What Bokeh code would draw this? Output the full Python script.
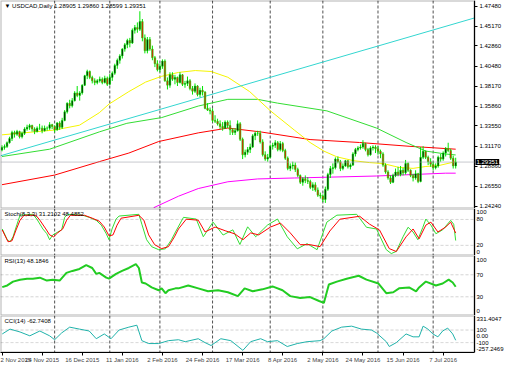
from bokeh.plotting import figure
from bokeh.layouts import column
from bokeh.models import (FixedTicker, Label, Span, Range1d, PrintfTickFormatter, ColumnDataSource,
                          LinearAxis, BoxAnnotation)
from bokeh.embed import file_html
from bokeh.resources import INLINE

FONT = "Liberation Sans"
FS = "6px"

# ---------------- data (bar index 0 = 2 Nov 2015, one bar per trading day) -------------
date_idx = [0, 16, 32, 48, 64, 80, 96, 112, 128, 144, 160, 176]
date_lbl = ["2 Nov 2015", "24 Nov 2015", "16 Dec 2015", "11 Jan 2016", "2 Feb 2016", "24 Feb 2016",
            "17 Mar 2016", "8 Apr 2016", "2 May 2016", "24 May 2016", "15 Jun 2016", "7 Jul 2016"]
month_idx = [21, 43, 63, 84, 107, 128, 150, 172]

opens = [1.3075,1.3105,1.3115,1.3160,1.3210,1.3280,1.3260,1.3290,1.3230,1.3270,
         1.3320,1.3340,1.3360,1.3320,1.3290,1.3330,1.3330,1.3300,1.3330,1.3330,
         1.3370,1.3350,1.3310,1.3390,1.3340,1.3420,1.3520,1.3620,1.3590,1.3650,
         1.3740,1.3710,1.3740,1.3830,1.3940,1.3990,1.3920,1.3880,1.3860,1.3880,
         1.3900,1.3860,1.3910,1.3840,1.3920,1.3970,1.4060,1.4120,1.4170,1.4250,
         1.4300,1.4350,1.4320,1.4470,1.4500,1.4480,1.4570,1.4380,1.4230,1.4360,
         1.4250,1.4150,1.4080,1.4010,1.4050,1.4110,1.3880,1.3830,1.3950,1.3900,
         1.3920,1.3860,1.3950,1.3840,1.3850,1.3880,1.3790,1.3760,1.3820,1.3720,
         1.3770,1.3750,1.3560,1.3540,1.3530,1.3420,1.3410,1.3380,1.3350,1.3330,
         1.3400,1.3360,1.3310,1.3280,1.3300,1.3380,1.3200,1.3020,1.3050,1.3080,
         1.3110,1.3240,1.3270,1.3270,1.3170,1.3020,1.2970,1.2990,1.3120,1.3130,
         1.3160,1.3080,1.3150,1.3070,1.2980,1.2860,1.2890,1.2900,1.2850,1.2780,
         1.2700,1.2740,1.2720,1.2710,1.2640,1.2670,1.2610,1.2550,1.2540,1.2500,
         1.2620,1.2790,1.2860,1.2870,1.2970,1.2940,1.2860,1.2890,1.2950,1.2880,
         1.2900,1.3030,1.3080,1.3100,1.3110,1.3150,1.3080,1.3020,1.3100,1.3110,
         1.3090,1.3060,1.3030,1.2900,1.2820,1.2750,1.2700,1.2780,1.2820,1.2790,
         1.2840,1.2810,1.2920,1.2840,1.2780,1.2750,1.2800,1.2710,1.2990,1.3060,
         1.2990,1.2940,1.2910,1.2870,1.2890,1.2990,1.2970,1.3040,1.3090,1.3070,
         1.2980,1.28905]
highs = [1.3130,1.3140,1.3175,1.3230,1.3300,1.3300,1.3310,1.3300,1.3290,1.3340,
         1.3370,1.3380,1.3370,1.3340,1.3350,1.3380,1.3360,1.3360,1.3350,1.3400,
         1.3380,1.3360,1.3400,1.3410,1.3450,1.3540,1.3630,1.3660,1.3680,1.3760,
         1.3820,1.3760,1.3840,1.3950,1.4010,1.4000,1.3940,1.3910,1.3900,1.3930,
         1.3920,1.3940,1.3930,1.3960,1.3990,1.4080,1.4140,1.4190,1.4260,1.4320,
         1.4370,1.4380,1.4490,1.4530,1.4560,1.4690,1.4600,1.4420,1.4390,1.4390,
         1.4290,1.4170,1.4120,1.4080,1.4130,1.4130,1.3920,1.3980,1.3980,1.3950,
         1.3930,1.3980,1.3960,1.3880,1.3930,1.3900,1.3820,1.3850,1.3830,1.3800,
         1.3820,1.3760,1.3620,1.3570,1.3560,1.3480,1.3440,1.3420,1.3400,1.3420,
         1.3420,1.3420,1.3330,1.3330,1.3420,1.3400,1.3220,1.3080,1.3110,1.3150,
         1.3260,1.3290,1.3300,1.3300,1.3200,1.3060,1.3030,1.3140,1.3160,1.3190,
         1.3180,1.3180,1.3170,1.3090,1.3000,1.2920,1.2940,1.2930,1.2870,1.2790,
         1.2760,1.2780,1.2760,1.2730,1.2700,1.2700,1.2640,1.2580,1.2560,1.2650,
         1.2810,1.2890,1.2920,1.2990,1.3000,1.2960,1.2920,1.2960,1.2960,1.2920,
         1.3050,1.3100,1.3120,1.3140,1.3190,1.3160,1.3100,1.3120,1.3130,1.3130,
         1.3120,1.3080,1.3050,1.2920,1.2840,1.2780,1.2800,1.2860,1.2880,1.2890,
         1.2870,1.2960,1.2930,1.2850,1.2800,1.2840,1.2810,1.3110,1.3120,1.3070,
         1.3010,1.2980,1.2940,1.2920,1.3010,1.3030,1.3060,1.3110,1.3160,1.3090,
         1.3010,1.2986]
lows = [1.3060,1.3080,1.3100,1.3150,1.3180,1.3220,1.3240,1.3210,1.3210,1.3250,
        1.3300,1.3310,1.3290,1.3260,1.3280,1.3310,1.3270,1.3290,1.3300,1.3310,
        1.3320,1.3280,1.3300,1.3310,1.3320,1.3410,1.3500,1.3560,1.3570,1.3640,
        1.3690,1.3650,1.3720,1.3820,1.3900,1.3900,1.3850,1.3830,1.3840,1.3860,
        1.3840,1.3850,1.3820,1.3830,1.3880,1.3950,1.4020,1.4080,1.4140,1.4220,
        1.4260,1.4270,1.4310,1.4430,1.4440,1.4460,1.4340,1.4200,1.4200,1.4230,
        1.4120,1.4040,1.3990,1.3980,1.4020,1.3870,1.3780,1.3800,1.3880,1.3840,
        1.3820,1.3850,1.3820,1.3800,1.3820,1.3770,1.3720,1.3740,1.3700,1.3690,
        1.3710,1.3550,1.3530,1.3490,1.3400,1.3390,1.3360,1.3320,1.3300,1.3320,
        1.3330,1.3250,1.3250,1.3250,1.3290,1.3180,1.2970,1.2990,1.3020,1.3040,
        1.3100,1.3190,1.3240,1.3150,1.3000,1.2950,1.2940,1.2980,1.3080,1.3100,
        1.3060,1.3060,1.3050,1.2960,1.2840,1.2830,1.2850,1.2820,1.2760,1.2680,
        1.2660,1.2690,1.2680,1.2620,1.2600,1.2590,1.2530,1.2510,1.2470,1.2460,
        1.2600,1.2750,1.2800,1.2850,1.2920,1.2830,1.2840,1.2880,1.2860,1.2850,
        1.2890,1.3000,1.3060,1.3080,1.3090,1.3060,1.3000,1.3010,1.3070,1.3040,
        1.3020,1.2980,1.2880,1.2800,1.2730,1.2680,1.2690,1.2760,1.2770,1.2770,
        1.2780,1.2790,1.2820,1.2760,1.2710,1.2730,1.2690,1.2700,1.2970,1.2970,
        1.2900,1.2880,1.2840,1.2850,1.2870,1.2940,1.2950,1.3000,1.3050,1.2960,
        1.2860,1.28599]
closes = [1.3105,1.3115,1.3160,1.3210,1.3280,1.3260,1.3290,1.3230,1.3270,1.3320,
          1.3340,1.3360,1.3320,1.3290,1.3330,1.3330,1.3300,1.3330,1.3330,1.3370,
          1.3350,1.3310,1.3390,1.3340,1.3420,1.3520,1.3620,1.3590,1.3650,1.3740,
          1.3710,1.3740,1.3830,1.3940,1.3990,1.3920,1.3880,1.3860,1.3880,1.3900,
          1.3860,1.3910,1.3840,1.3920,1.3970,1.4060,1.4120,1.4170,1.4250,1.4300,
          1.4350,1.4320,1.4470,1.4500,1.4480,1.4570,1.4380,1.4230,1.4360,1.4250,
          1.4150,1.4080,1.4010,1.4050,1.4110,1.3880,1.3830,1.3950,1.3900,1.3920,
          1.3860,1.3950,1.3840,1.3850,1.3880,1.3790,1.3760,1.3820,1.3720,1.3770,
          1.3750,1.3560,1.3540,1.3530,1.3420,1.3410,1.3380,1.3350,1.3330,1.3400,
          1.3360,1.3310,1.3280,1.3300,1.3380,1.3200,1.3020,1.3050,1.3080,1.3110,
          1.3240,1.3270,1.3270,1.3170,1.3020,1.2970,1.2990,1.3120,1.3130,1.3160,
          1.3080,1.3150,1.3070,1.2980,1.2860,1.2890,1.2900,1.2850,1.2780,1.2700,
          1.2740,1.2720,1.2710,1.2640,1.2670,1.2610,1.2550,1.2540,1.2500,1.2620,
          1.2790,1.2860,1.2870,1.2970,1.2940,1.2860,1.2890,1.2950,1.2880,1.2900,
          1.3030,1.3080,1.3100,1.3110,1.3150,1.3080,1.3020,1.3100,1.3110,1.3090,
          1.3060,1.3030,1.2900,1.2820,1.2750,1.2700,1.2780,1.2820,1.2790,1.2840,
          1.2810,1.2920,1.2840,1.2780,1.2750,1.2800,1.2710,1.2990,1.3060,1.2990,
          1.2940,1.2910,1.2870,1.2890,1.2990,1.2970,1.3040,1.3090,1.3070,1.2980,
          1.2890,1.29351]
last_price = 1.29351

price_ticks = [1.24240, 1.26550, 1.28860, 1.31170, 1.33550, 1.35860, 1.38170, 1.40480, 1.42860, 1.45170, 1.47480]

# moving averages (bar index, price)
ma_yellow_x = [0, 21, 30.9, 38.8, 42.7, 50.6, 57.3, 63.7, 70.4, 77.1, 83.4, 90.1, 98.8, 107.1, 116.6,
               122.9, 128.4, 133.6, 140.3, 146.6, 152.1, 158.4, 164, 169.1, 174.3, 181]
ma_yellow_y = [1.3252, 1.3308, 1.3364, 1.3509, 1.3610, 1.3755, 1.3866, 1.3933, 1.3978, 1.4000, 1.3989,
               1.3922, 1.3755, 1.3531, 1.3308, 1.3163, 1.3063, 1.2996, 1.2951, 1.2929, 1.2918, 1.2873,
               1.2862, 1.2884, 1.2895, 1.2940]
ma_green_x = [0, 19, 38.8, 49.8, 63.7, 78.3, 90.1, 102, 109.9, 129.6, 149.4, 161.2, 169.1, 177, 181]
ma_green_y = [1.3000, 1.3085, 1.3286, 1.3386, 1.3453, 1.3587, 1.3665, 1.3665, 1.3621, 1.3531, 1.3331,
              1.3163, 1.3063, 1.3029, 1.3018]
ma_red_x = [0, 21, 38.8, 50.6, 62.5, 78.3, 90.1, 103.2, 122.9, 142.6, 162.4, 181]
ma_red_y = [1.2672, 1.2784, 1.2940, 1.3040, 1.3174, 1.3275, 1.3331, 1.3286, 1.3197, 1.3163, 1.3119, 1.3085]
ma_magenta_x = [60.5, 70.4, 78.3, 90.1, 102, 116.6, 149.4, 177, 181]
ma_magenta_y = [1.2404, 1.2538, 1.2627, 1.2706, 1.2739, 1.2750, 1.2773, 1.2806, 1.2806]
trend_x = [-0.6, 188.5]
trend_y = [1.3008, 1.4612]

# Stochastic(8,3,3)
stk_x = [0.1, 2.1, 3.2, 4.4, 6.0, 7.2, 12.3, 13.9, 16.3, 17.9, 19.0, 20.2, 23.8, 25.0, 26.1, 32.1, 34.8,
         37.6, 39.6, 41.6, 42.7, 43.9, 45.5, 46.7, 54.6, 55.8, 57.7, 59.7, 62.5, 65.2, 67.6, 69.2, 72.4,
         77.5, 80.3, 84.2, 88.2, 92.1, 94.9, 98.0, 101.2, 105.9, 109.9, 113.8, 117.8, 121.7, 125.7, 129.6,
         133.6, 141.5, 145.4, 149.4, 153.3, 155.3, 157.3, 160.0, 162.0, 164.0, 165.9, 167.9, 169.1, 171.1,
         173.1, 175.8, 179.0, 180.2, 181]
stk_k = [58, 33, 28, 40, 69, 90, 92, 81, 58, 47, 33, 44, 56, 85, 92, 90, 85, 78, 67, 47, 33, 58, 81, 88,
         92, 69, 33, 17, 10, 12, 33, 51, 85, 81, 40, 74, 44, 56, 22, 63, 40, 67, 81, 40, 12, 24, 10, 74,
         90, 92, 62, 58, 10, 1, 6, 40, 62, 51, 33, 62, 81, 67, 47, 56, 78, 69, 31.2]
std_x = [0.1, 2.4, 4.0, 5.6, 7.2, 8.8, 13.5, 15.1, 17.5, 19.0, 20.6, 22.2, 24.2, 25.8, 27.3, 32.9, 36.0,
         38.8, 40.8, 42.7, 44.3, 45.9, 47.5, 54.6, 56.6, 58.5, 60.9, 63.7, 66.4, 68.8, 70.4, 73.5, 78.3,
         81.0, 85.0, 89.3, 92.9, 96.1, 99.2, 102.4, 107.1, 111.1, 115.0, 119.0, 122.9, 126.9, 130.8,
         134.8, 142.7, 146.6, 150.6, 154.5, 157.3, 161.2, 164.0, 166.4, 169.1, 171.1, 173.9, 177.0,
         179.0, 181]
std_d = [55.7, 28.4, 30.7, 55.7, 78.4, 89.8, 89.8, 78.4, 58.0, 44.3, 39.8, 48.9, 58.0, 78.4, 89.8, 89.8,
         83.0, 76.1, 62.5, 42.0, 44.3, 67.0, 83.0, 89.8, 78.4, 44.3, 21.6, 12.5, 17.0, 39.8, 58.0, 80.7,
         78.4, 51.1, 62.5, 53.4, 46.6, 33.0, 48.9, 44.3, 62.5, 71.6, 48.9, 21.6, 21.6, 17.0, 53.4, 80.7,
         87.5, 69.3, 55.7, 12.5, 5.7, 39.8, 58.0, 35.2, 67.0, 73.9, 51.1, 62.5, 73.9, 48.5]

# RSI(13)
rsi_x = [0.1, 2.1, 4.4, 7.2, 10.0, 12.3, 15.1, 17.9, 20.2, 23.0, 25.7, 28.1, 30.9, 33.6, 36.0, 37.6,
         38.8, 41.6, 42.7, 45.5, 47.9, 50.6, 53.4, 54.6, 55.8, 57.3, 59.7, 62.5, 63.7, 65.2, 66.4, 69.2,
         70.4, 74.3, 78.3, 82.2, 86.2, 90.1, 94.1, 96.8, 100.0, 103.9, 107.9, 111.9, 115.0, 119.0, 122.9,
         126.5, 128.4, 130.4, 133.6, 137.5, 142.3, 145.4, 150.2, 153.3, 156.1, 158.4, 162.4, 165.2,
         166.4, 169.1, 173.1, 175.8, 178.2, 179.8, 181]
rsi_v = [47.6, 50.6, 57.6, 61.1, 62.9, 62.9, 64.7, 59.4, 61.1, 59.4, 73.5, 77.0, 80.5, 87.6, 82.3, 71.7,
         73.5, 64.7, 62.9, 71.7, 77.0, 82.3, 89.3, 82.3, 55.9, 54.1, 47.0, 41.8, 45.3, 36.5, 41.8, 45.3,
         45.3, 50.6, 45.3, 40.0, 41.8, 38.2, 31.2, 45.3, 40.0, 43.5, 48.8, 41.8, 31.2, 27.7, 29.4, 22.4,
         18.9, 52.3, 57.6, 62.9, 68.2, 61.1, 54.1, 36.5, 38.2, 45.3, 47.0, 40.0, 47.0, 57.6, 50.6, 54.1,
         61.1, 55.9, 48.18]

# CCI(14)
cci_x = [0.1, 3.2, 7.2, 11.1, 15.1, 19.0, 21.0, 23.8, 27.0, 30.9, 34.8, 37.6, 40.8, 43.5, 46.7, 50.6,
         53.8, 55.8, 58.5, 62.5, 66.4, 70.4, 73.1, 78.3, 81.0, 83.4, 87.3, 91.3, 96.1, 99.2, 103.2, 105.9,
         109.9, 113.8, 117.8, 121.7, 126.9, 128.4, 131.6, 135.5, 139.5, 143.4, 147.4, 149.4, 153.3, 154.5,
         157.3, 161.2, 164.0, 166.4, 168.0, 169.9, 171.9, 173.9, 175.8, 177.8, 179.8, 181]
cci_v = [38, 115, 69, 8, 85, 8, -54, 54, 146, 115, 85, -38, 38, -38, 100, 146, 177, -69, -115, -115, -69,
         -54, -85, -38, -100, -146, -38, -69, -223, -85, -38, -85, -69, -162, -115, -85, -69, -38, 85,
         146, 162, 115, 100, 54, -85, -162, -100, 38, -8, -8, 162, 115, 38, -8, 85, 131, 38, -62.74]
cci_top, cci_bot = 331.4047, -257.2469

# ---------------- layout ----------------
DATA_W = 474          # px of the bar area
AXIS_W = 36           # px of the price-scale strip (inside the frame)
X_START, X_EDGE = -0.6, 188.5
X_END = X_EDGE + AXIS_W * (X_EDGE - X_START) / DATA_W
x_range = Range1d(X_START, X_END)


def make_fig(h, ylo, yhi, xaxis=False):
    p = figure(frame_width=DATA_W + AXIS_W, frame_height=h, x_range=x_range, y_range=Range1d(ylo, yhi),
               output_backend="svg", toolbar_location=None,
               x_axis_location="below" if xaxis else None, y_axis_location=None,
               min_border_left=0, min_border_right=0, min_border_top=0, min_border_bottom=0,
               background_fill_color="white", border_fill_color="white", outline_line_color=None)
    p.xgrid.visible = False
    p.ygrid.visible = False
    for m in month_idx:
        p.add_layout(Span(location=m, dimension="height", line_color="#505050",
                          line_dash="3 2", line_width=1, level="underlay"))
    p.add_layout(BoxAnnotation(right=X_EDGE, fill_color=None, line_color="black", line_width=2))
    ax = LinearAxis(fixed_location=X_EDGE)
    ax.axis_line_color = "black"
    ax.major_label_text_font = FONT
    ax.major_label_text_font_size = FS
    ax.major_label_text_color = "black"
    ax.major_label_standoff = 2
    ax.minor_tick_line_color = None
    ax.major_tick_in = 0
    ax.major_tick_out = 0
    p.add_layout(ax, "right")
    return p, ax


def level_lines(p, levels):
    for lv in levels:
        p.add_layout(BoxAnnotation(top=lv, bottom=lv, right=X_EDGE, fill_color=None,
                                   line_color="#b4b4b4", line_dash="3 2", line_width=1, level="underlay"))


def corner_label(p, h, text):
    p.add_layout(Label(x=4, y=h - 2, x_units="screen", y_units="screen", text=text,
                       text_font=FONT, text_font_size=FS, text_baseline="top", text_color="black"))


def inset(lo, hi, h, px):
    # value that sits px pixels inside an edge (used to keep edge labels inside the panel)
    return (hi - lo) * px / h


# ---------------- main price panel ----------------
H_MAIN = 208
pm, axm = make_fig(H_MAIN, 1.2395, 1.4815)
axm.ticker = FixedTicker(ticks=price_ticks)
axm.formatter = PrintfTickFormatter(format="%.5f")
axm.major_tick_out = 3

pm.add_layout(BoxAnnotation(top=last_price, bottom=last_price, right=X_EDGE, fill_color=None,
                            line_color="#9aa0a6", line_width=1))

idx = list(range(len(closes)))
body_top = [max(o, c) for o, c in zip(opens, closes)]
body_bot = [min(o, c) for o, c in zip(opens, closes)]
body_col = ["black" if c >= o else "red" for o, c in zip(opens, closes)]
src = ColumnDataSource(dict(x=idx, o=opens, h=highs, l=lows, c=closes,
                            top=body_top, bot=body_bot, col=body_col))

pm.line(ma_magenta_x, ma_magenta_y, line_color="#ff00ff", line_width=1)
pm.line(ma_red_x, ma_red_y, line_color="#ff0000", line_width=1)
pm.line(ma_green_x, ma_green_y, line_color="#33dd33", line_width=1)
pm.line(ma_yellow_x, ma_yellow_y, line_color="#f5f500", line_width=1)
pm.line(trend_x, trend_y, line_color="#33d6d0", line_width=1)

pm.segment(x0="x", y0="l", x1="x", y1="h", source=src, line_color="#00e600", line_width=1)
pm.vbar(x="x", width=0.6, top="top", bottom="bot", source=src,
        fill_color="col", line_color="#00e600", line_width=0.6)

corner_label(pm, H_MAIN, "\u25bc USDCAD,Daily  1.28905 1.29860 1.28599 1.29351")
tag_kw = dict(x=X_EDGE, y=last_price, x_offset=1, text="1.29351",
              text_font=FONT, text_font_size=FS, text_color="white", text_baseline="middle",
              text_align="left", background_fill_color="black")
if "padding" in Label.properties():
    tag_kw["padding"] = 1
pm.add_layout(Label(**tag_kw))

# ---------------- stochastic ----------------
H_STO = 47
s_lo, s_hi = -3.5, 105.5
ps, axs = make_fig(H_STO, s_lo, s_hi)
s_t0, s_t100 = s_lo + inset(s_lo, s_hi, H_STO, 3.5), s_hi - inset(s_lo, s_hi, H_STO, 3)
axs.ticker = FixedTicker(ticks=[s_t0, 20, 80, s_t100])
axs.major_label_overrides = {s_t0: "0", 20: "20", 80: "80", s_t100: "100"}
level_lines(ps, [20, 80])
ps.line(stk_x, stk_k, line_color="#33dd33", line_width=1)
ps.line(std_x, std_d, line_color="#ff0000", line_width=1)
corner_label(ps, H_STO, "Stoch(8,3,3) 31.2102 48.4852")

# ---------------- RSI ----------------
H_RSI = 60
r_lo, r_hi = -4, 105
pr, axr = make_fig(H_RSI, r_lo, r_hi)
r_t0, r_t100 = r_lo + inset(r_lo, r_hi, H_RSI, 4.5), r_hi - inset(r_lo, r_hi, H_RSI, 4)
axr.ticker = FixedTicker(ticks=[r_t0, 30, 70, r_t100])
axr.major_label_overrides = {r_t0: "0", 30: "30", 70: "70", r_t100: "100"}
level_lines(pr, [30, 70])
pr.line(rsi_x, rsi_v, line_color="#22cc22", line_width=2)
corner_label(pr, H_RSI, "RSI(13) 48.1846")

# ---------------- CCI ----------------
H_CCI = 37
pc, axc = make_fig(H_CCI, cci_bot, cci_top, xaxis=True)
c_tb, c_tt = cci_bot + inset(cci_bot, cci_top, H_CCI, 3.5), cci_top - inset(cci_bot, cci_top, H_CCI, 3.3)
axc.ticker = FixedTicker(ticks=[c_tb, -100, 0, 100, c_tt])
axc.major_label_overrides = {c_tb: "-257.2469", -100: "-100", 0: "0.00", 100: "100", c_tt: "331.4047"}
level_lines(pc, [100, -100])
pc.line(cci_x, cci_v, line_color="#20b2aa", line_width=1)
corner_label(pc, H_CCI, "CCI(14) -62.7408")

xa = pc.xaxis[0]
xa.ticker = FixedTicker(ticks=date_idx)
xa.major_label_overrides = {i: s for i, s in zip(date_idx, date_lbl)}
xa.bounds = (X_START, X_EDGE)
xa.major_label_text_align = "left"
xa.major_label_text_font = FONT
xa.major_label_text_font_size = FS
xa.major_label_standoff = 1
xa.major_tick_in = 0
xa.major_tick_out = 3
xa.minor_tick_line_color = None
xa.axis_line_color = "black"

layout = column(pm, ps, pr, pc, spacing=0)
open("out.html", "w").write(file_html(layout, INLINE))
